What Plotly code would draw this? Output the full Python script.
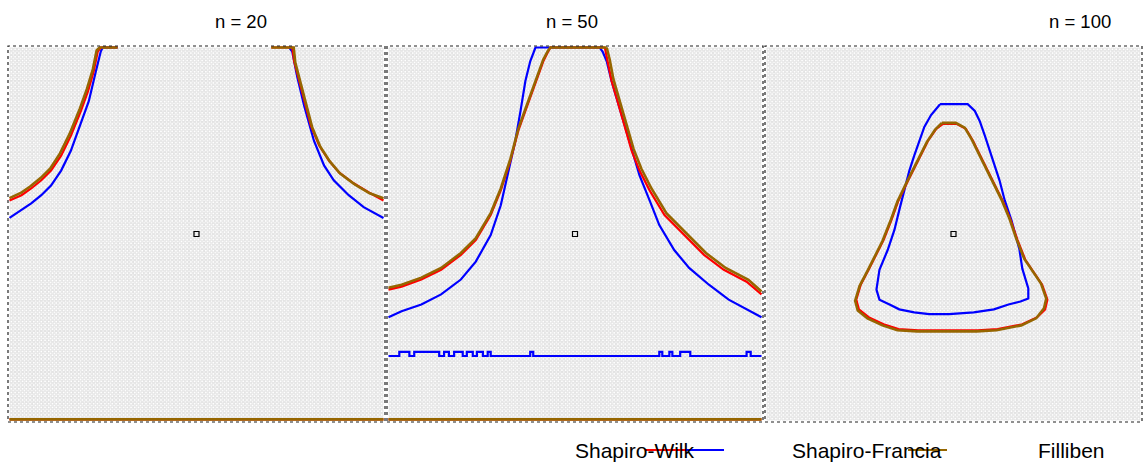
import numpy as np
import plotly.graph_objects as go

# ---------------- data (grid units 0..100) ----------------
panels = ["n = 20", "n = 50", "n = 100"]

# n = 20
sw20_x = [0, 3.2, 5.8, 8.5, 11.1, 13.8, 16.4, 19.1, 21.0, 22.5, 23.6, 24.4, 28.9, None,
          70.0, 75.6, 76.1, 77.5, 78.8, 80.6, 82.8, 85.4, 88.1, 92.0, 96.0, 100]
sw20_y = [59.0, 60.4, 62.2, 64.4, 67.0, 71.0, 76.3, 83.0, 88.3, 93.6, 98.9, 100, 100, None,
          100, 100, 96.3, 91.0, 85.6, 79.0, 73.7, 69.7, 66.5, 63.6, 61.2, 59.0]
sf20_x = [0, 3.2, 5.8, 8.5, 11.1, 13.8, 16.4, 19.1, 21.2, 23.1, 24.4, 24.9, 28.9, None,
          74.8, 75.6, 76.9, 78.8, 81.4, 84.1, 86.7, 90.7, 94.7, 100]
sf20_y = [54.3, 56.4, 58.2, 60.4, 63.0, 67.0, 72.3, 79.8, 85.6, 93.6, 98.9, 100, 100, None,
          100, 98.9, 92.3, 84.3, 75.0, 68.4, 64.4, 60.4, 57.2, 54.3]
fb20_x = [0, 3.0, 5.6, 8.3, 10.9, 13.5, 16.1, 18.8, 20.7, 22.3, 23.3, 24.1, 28.9, None,
          70.0, 76.0, 76.4, 77.8, 79.1, 80.9, 83.1, 85.7, 88.4, 92.3, 96.3, 100]
fb20_y = [59.6, 61.0, 62.8, 65.0, 67.6, 71.6, 76.9, 83.6, 88.9, 94.2, 99.2, 100, 100, None,
          100, 100, 96.0, 90.7, 85.3, 78.7, 73.4, 69.4, 66.2, 63.3, 60.9, 59.6]
floor_x = [0, 100]
floor_y = [0.3, 0.3]

# n = 50
sw50_x = [0, 3.5, 8.8, 14.1, 19.4, 23.4, 27.4, 30.1, 32.7, 34.8, 36.7, 38.6, 40.2, 41.5,
          42.8, 43.4, 58.0, None, 58.0, 58.8, 59.8, 61.4, 63.3, 65.2, 67.3, 70.0, 74.0, 79.3,
          84.6, 89.9, 96.0, 100]
sw50_y = [35.1, 35.9, 37.8, 40.4, 44.4, 48.4, 55.1, 61.7, 69.7, 77.7, 83.0, 88.3, 92.3,
          96.3, 98.9, 100, 100, None, 100, 96.3, 91.0, 85.6, 79.0, 72.3, 67.0, 61.7, 55.1,
          49.7, 44.4, 40.4, 37.2, 33.8]
sf50_x = [0, 3.5, 8.8, 14.1, 19.4, 23.4, 27.4, 30.1, 32.2, 34.0, 35.4, 36.7, 38.0, 39.4,
          56.6, 57.4, 58.5, 59.8, 61.4, 63.3, 65.2, 67.3, 70.0, 72.6, 76.6, 80.6, 85.9,
          91.2, 100]
sf50_y = [27.7, 29.3, 31.1, 33.8, 37.8, 42.6, 49.7, 57.7, 67.0, 75.0, 83.0, 91.0, 96.3,
          100, 100, 98.9, 96.3, 91.0, 85.6, 79.0, 72.3, 65.7, 59.0, 52.4, 45.7, 40.9,
          36.4, 32.4, 27.7]
fb50_x = [0, 3.5, 8.8, 14.1, 19.4, 23.4, 27.4, 30.1, 32.7, 34.8, 36.7, 38.6, 40.2, 41.5,
          42.8, 43.4, 58.5, None, 58.5, 59.3, 60.3, 61.9, 63.8, 65.7, 67.8, 70.5, 74.5, 79.8,
          85.1, 90.4, 96.5, 100]
fb50_y = [35.6, 36.4, 38.3, 40.9, 44.9, 48.9, 55.6, 62.2, 70.2, 78.2, 83.5, 88.8, 92.8,
          96.8, 99.2, 100, 100, None, 100, 96.8, 91.5, 86.1, 79.5, 72.8, 67.5, 62.2, 55.6,
          50.2, 44.9, 40.9, 37.7, 34.6]
# low Shapiro-Francia band: baseline level and raised stretches (start, end)
sfflat_level = 17.3
sfflat_raised = 18.4
sfflat_bumps = [(2.9, 5.6), (6.9, 13.6), (14.9, 16.2), (17.6, 19.9), (21.0, 22.6),
                (23.7, 25.3), (26.6, 27.4), (38.0, 38.8), (72.6, 73.4), (75.3, 76.1),
                (78.2, 80.9), (96.0, 97.1)]

# n = 100 (closed loops)
sw100_x = [47.2, 50.9, 53.3, 55.2, 57.8, 60.5, 63.1, 65.3, 67.1, 69.2, 71.9, 73.7, 75.1,
           74.5, 72.4, 68.4, 61.8, 56.5, 48.5, 40.6, 35.3, 31.3, 27.3, 24.7, 24.0, 25.2,
           27.3, 29.4, 31.3, 33.4, 35.3, 37.9, 40.6, 43.2, 45.4, 47.2]
sw100_y = [79.5, 79.5, 78.2, 75.0, 69.7, 64.4, 59.0, 53.7, 48.4, 43.1, 39.1, 36.4, 32.4,
           29.8, 27.7, 25.8, 24.5, 24.2, 24.2, 24.2, 24.5, 25.8, 27.7, 29.8, 32.4, 36.4,
           40.4, 44.4, 48.4, 53.7, 59.0, 64.4, 69.7, 75.0, 78.2, 79.5]
sf100_x = [46.4, 53.8, 55.7, 57.0, 58.4, 59.7, 61.0, 62.3, 63.7, 65.5, 67.6, 68.4, 70.0,
           70.0, 67.9, 64.7, 60.8, 55.4, 48.8, 43.5, 39.5, 35.5, 32.9, 30.2, 29.4, 30.2,
           32.4, 34.2, 35.5, 36.9, 38.2, 39.5, 40.8, 42.2, 44.0, 46.4]
sf100_y = [84.8, 84.8, 83.0, 80.3, 76.3, 72.3, 68.4, 64.4, 59.0, 53.7, 46.0, 40.7, 35.4,
           32.7, 31.9, 31.1, 29.8, 29.0, 28.5, 28.5, 29.0, 29.8, 31.1, 32.4, 35.1, 40.4,
           45.7, 51.1, 56.4, 61.7, 67.0, 71.0, 75.0, 78.7, 81.9, 84.8]
fb100_x = [46.9, 50.6, 53.0, 54.9, 57.5, 60.2, 62.8, 65.0, 66.8, 68.9, 71.6, 73.4, 74.8,
           74.2, 72.1, 68.1, 61.5, 56.2, 48.2, 40.3, 35.0, 31.0, 27.0, 24.4, 23.7, 24.9,
           27.0, 29.1, 31.0, 33.1, 35.0, 37.6, 40.3, 42.9, 45.1, 46.9]
fb100_y = [79.8, 79.8, 78.5, 75.3, 70.0, 64.7, 59.3, 54.0, 48.7, 43.4, 39.4, 36.7, 32.7,
           30.1, 27.4, 25.5, 24.2, 23.9, 23.9, 23.9, 24.2, 25.5, 27.4, 29.5, 32.1, 36.1,
           40.1, 44.1, 48.1, 53.4, 58.7, 64.1, 69.4, 74.7, 78.0, 79.8]

series_names = ["Shapiro-Wilk", "Shapiro-Francia", "Filliben"]
series_colors = ["#ff0000", "#0000ff", "#966600"]
title_centers_px = [241, 572, 1080]

# build the stepped low band from the bump list
sfflat_x, sfflat_y = [0.0], [sfflat_level]
for a, b in sfflat_bumps:
    sfflat_x += [a, a, b, b]
    sfflat_y += [sfflat_level, sfflat_raised, sfflat_raised, sfflat_level]
sfflat_x.append(100.0)
sfflat_y.append(sfflat_level)

curves = {
    1: {"sf": [(sf20_x, sf20_y)], "sw": [(sw20_x, sw20_y), (floor_x, floor_y)],
        "fb": [(fb20_x, fb20_y), (floor_x, floor_y)]},
    2: {"sf": [(sf50_x, sf50_y), (sfflat_x, sfflat_y)], "sw": [(sw50_x, sw50_y), (floor_x, floor_y)],
        "fb": [(fb50_x, fb50_y), (floor_x, floor_y)]},
    3: {"sf": [(sf100_x, sf100_y)], "sw": [(sw100_x, sw100_y)], "fb": [(fb100_x, fb100_y)]},
}

# ---------------- figure ----------------
W, H = 1148, 466
fig = go.Figure()

domains_px = [(8, 385), (387, 763), (765, 1142)]
ytop, ybot = 46, 422
ydom = [1 - ybot / H, 1 - ytop / H]

gx, gy = np.meshgrid(np.arange(100) + 0.5, np.arange(100) + 0.5)
gx, gy = gx.ravel(), gy.ravel()

col = {"sw": series_colors[0], "sf": series_colors[1], "fb": series_colors[2]}
wid = {"sw": 2.2, "sf": 2.2, "fb": 2.6}

for i in range(1, 4):
    xa = "x" if i == 1 else f"x{i}"
    ya = "y" if i == 1 else f"y{i}"
    fig.add_trace(go.Scatter(x=gx, y=gy, mode="markers", xaxis=xa, yaxis=ya,
                             marker=dict(symbol="square-open", size=2.6, color="#dcdcdc",
                                         line=dict(width=0.8, color="#d8d8d8")),
                             hoverinfo="skip", showlegend=False))
    fig.add_trace(go.Scatter(x=[50], y=[50], mode="markers", xaxis=xa, yaxis=ya,
                             marker=dict(symbol="square-open", size=5, color="black",
                                         line=dict(width=1.2, color="black")),
                             showlegend=False))
    for key in ["sf", "sw", "fb"]:
        for (cx, cy) in curves[i][key]:
            fig.add_trace(go.Scatter(x=cx, y=cy, mode="lines", xaxis=xa, yaxis=ya,
                                     line=dict(color=col[key], width=wid[key]),
                                     connectgaps=False, showlegend=False))

layout_axes = {}
for i, (a, b) in enumerate(domains_px, start=1):
    xn = "xaxis" if i == 1 else f"xaxis{i}"
    yn = "yaxis" if i == 1 else f"yaxis{i}"
    layout_axes[xn] = dict(domain=[a / W, b / W], range=[-0.4, 100.4], visible=False,
                           fixedrange=True)
    layout_axes[yn] = dict(domain=ydom, range=[-0.4, 100.4], visible=False,
                           anchor="x" if i == 1 else f"x{i}", fixedrange=True)
    if i > 1:
        layout_axes[xn]["anchor"] = f"y{i}"

FONT = "Liberation Sans, Arial, sans-serif"
shapes = []
annotations = []
for i, (a, b) in enumerate(domains_px, start=1):
    shapes.append(dict(type="rect", xref="paper", yref="paper",
                       x0=a / W, x1=b / W, y0=ydom[0], y1=ydom[1],
                       line=dict(color="#222222", width=1.2, dash="dot"), layer="above"))
    annotations.append(dict(text=panels[i - 1], xref="paper", yref="paper",
                            x=title_centers_px[i - 1] / W, y=1 - 22 / H, showarrow=False,
                            xanchor="center", yanchor="middle",
                            font=dict(family=FONT, size=18.5, color="black")))

# legend drawn as text + line samples (as in the reference)
leg_y = 1 - 450 / H
leg_items = [("Shapiro-Wilk", 573), ("Shapiro-Francia", 790), ("Filliben", 1036)]
for txt, px in leg_items:
    annotations.append(dict(text=txt, xref="paper", yref="paper", x=px / W, y=leg_y,
                            showarrow=False, xanchor="left", yanchor="middle",
                            font=dict(family=FONT, size=21, color="black")))
for (x0, x1, c) in [(645, 685, series_colors[0]), (685, 724, series_colors[1]),
                    (908, 947, series_colors[2])]:
    shapes.append(dict(type="line", xref="paper", yref="paper", x0=x0 / W, x1=x1 / W,
                       y0=leg_y, y1=leg_y, line=dict(color=c, width=2.2)))

fig.update_layout(width=W, height=H, margin=dict(l=0, r=0, t=0, b=0),
                  paper_bgcolor="white", plot_bgcolor="white", showlegend=False,
                  shapes=shapes, annotations=annotations, **layout_axes)

fig.write_html("out.html")
